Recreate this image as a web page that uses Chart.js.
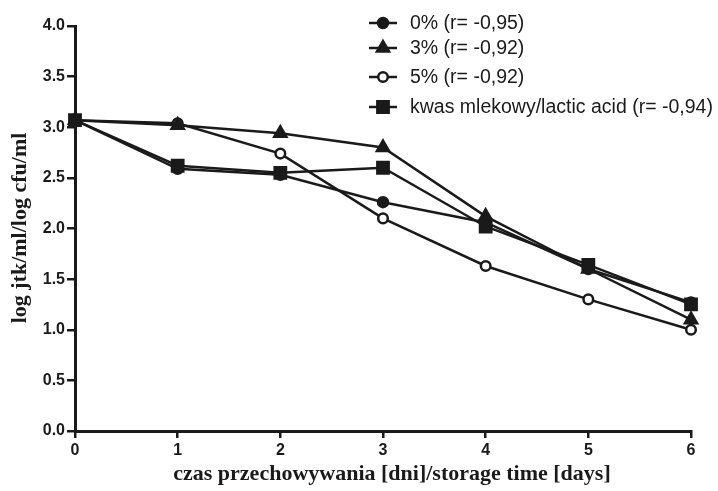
<!DOCTYPE html>
<html>
<head>
<meta charset="utf-8">
<script src="https://cdn.jsdelivr.net/npm/chart.js@4/dist/chart.umd.min.js"></script>
<style>
  body { margin: 0; background: #fff; }
</style>
</head>
<body>
<canvas id="myChart" width="718" height="491"></canvas>
<script>
// storage time in days
let days = [0, 1, 2, 3, 4, 5, 6];

// log cfu/ml
let conc0 = [3.07, 2.59, 2.53, 2.26, 2.06, 1.60, 1.27];
let conc3 = [3.07, 3.02, 2.94, 2.80, 2.12, 1.60, 1.10];
let conc5 = [3.07, 3.04, 2.74, 2.10, 1.63, 1.30, 1.00];
let lactic = [3.07, 2.62, 2.55, 2.60, 2.02, 1.64, 1.25];

let seriesLabels = ['0% (r= -0,95)', '3% (r= -0,92)', '5% (r= -0,92)', 'kwas mlekowy/lactic acid (r= -0,94)'];
let yTicks = [0, 0.5, 1, 1.5, 2, 2.5, 3, 3.5, 4];
let xTitle = 'czas przechowywania [dni]/storage time [days]';
let yTitle = 'log jtk/ml/log cfu/ml';

const ink = '#1a1a1a';

function toPoints(values) {
    return days.map((d, i) => ({ x: d, y: values[i] }));
}

function makeSet(label, values, style, radius, fill) {
    return {
        label: label,
        data: toPoints(values),
        borderColor: ink,
        backgroundColor: ink,
        borderWidth: 2.5,
        pointStyle: style,
        pointRadius: radius,
        pointBackgroundColor: fill,
        pointBorderColor: ink,
        pointBorderWidth: 2.5,
        clip: false,
        tension: 0
    };
}

// legend + axis titles drawn at fixed spots like the original figure
const extras = {
    id: 'extras',
    afterDraw(chart) {
        const ctx = chart.ctx;
        const rows = [23, 48, 77, 107];
        ctx.save();
        chart.data.datasets.forEach((ds, i) => {
            const y = rows[i];
            ctx.strokeStyle = ink;
            ctx.lineWidth = 2.5;
            ctx.beginPath();
            ctx.moveTo(369, y);
            ctx.lineTo(397, y);
            ctx.stroke();
            ctx.fillStyle = ds.pointBackgroundColor;
            ctx.strokeStyle = ink;
            ctx.lineWidth = 2.5;
            Chart.helpers.drawPoint(ctx, { pointStyle: ds.pointStyle, radius: ds.pointRadius, borderWidth: 2.5 }, 383, y);
            ctx.fillStyle = ink;
            ctx.font = '19.5px "Liberation Sans", Arial, sans-serif';
            ctx.textAlign = 'left';
            ctx.textBaseline = 'middle';
            ctx.fillText(ds.label, 410, y + 1);
        });

        ctx.font = 'bold 22px "Liberation Serif", "Times New Roman", serif';
        ctx.textAlign = 'center';
        ctx.textBaseline = 'middle';
        ctx.fillText(xTitle, 392, 474);

        ctx.translate(20, 228);
        ctx.rotate(-Math.PI / 2);
        ctx.fillText(yTitle, 0, 0);
        ctx.restore();
    }
};

function createChart() {
    let ctx = document.getElementById('myChart').getContext('2d');
    let chart = new Chart(ctx, {
        type: 'line',
        data: {
            datasets: [
                makeSet(seriesLabels[0], conc0, 'circle', 5, ink),
                makeSet(seriesLabels[1], conc3, 'triangle', 7, ink),
                makeSet(seriesLabels[2], conc5, 'circle', 4.8, '#fff'),
                makeSet(seriesLabels[3], lactic, 'rect', 8, ink)
            ]
        },
        options: {
            responsive: false,
            animation: false,
            layout: { padding: { top: 26, right: 27, left: 0, bottom: 0 } },
            plugins: {
                legend: { display: false },
                tooltip: { enabled: false }
            },
            scales: {
                x: {
                    type: 'linear',
                    min: 0,
                    max: 6,
                    ticks: {
                        stepSize: 1,
                        color: ink,
                        padding: 3,
                        font: { family: '"Liberation Sans", Arial, sans-serif', size: 16, weight: 'bold' }
                    },
                    grid: { drawOnChartArea: false, color: ink, lineWidth: 2.5, tickLength: 7 },
                    border: { color: ink, width: 3 },
                    afterFit(scale) { scale.height = 60; }
                },
                y: {
                    min: 0,
                    max: 4,
                    afterBuildTicks(scale) {
                        scale.ticks = yTicks.map(v => ({ value: v }));
                    },
                    ticks: {
                        color: ink,
                        padding: 2,
                        callback: v => Number(v).toFixed(1),
                        font: { family: '"Liberation Sans", Arial, sans-serif', size: 16, weight: 'bold' }
                    },
                    grid: { drawOnChartArea: false, color: ink, lineWidth: 2.5, tickLength: 8 },
                    border: { color: ink, width: 3 },
                    afterFit(scale) { scale.width = 75; }
                }
            }
        },
        plugins: [extras]
    });
}

createChart();
</script>
</body>
</html>
